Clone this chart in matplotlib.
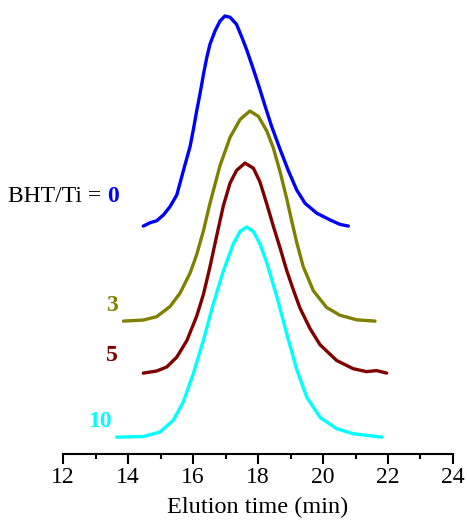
import numpy as np
import matplotlib.pyplot as plt

# elution time (min) and normalised RI signal
t_0 = [14.47, 14.68, 14.88, 15.09, 15.29, 15.50, 15.60, 15.75, 15.91, 16.01,
       16.11, 16.22, 16.32, 16.42, 16.52, 16.68, 16.83, 16.98, 17.14, 17.34,
       17.50, 17.65, 17.86, 18.06, 18.22, 18.42, 18.68, 18.93, 19.19, 19.45,
       19.81, 20.22, 20.52, 20.78]
s_0 = [0.0, 0.016, 0.025, 0.053, 0.092, 0.148, 0.205, 0.29, 0.379, 0.459,
       0.546, 0.634, 0.721, 0.80, 0.865, 0.93, 0.976, 1.0, 0.994, 0.96,
       0.90, 0.84, 0.745, 0.65, 0.57, 0.474, 0.365, 0.265, 0.172, 0.108,
       0.061, 0.029, 0.008, 0.0]

t_3 = [13.86, 14.47, 14.88, 15.29, 15.60, 15.91, 16.11, 16.32, 16.52, 16.83,
       17.14, 17.45, 17.75, 18.01, 18.27, 18.47, 18.68, 18.88, 19.04, 19.19,
       19.39, 19.70, 20.11, 20.52, 21.04, 21.60]
s_3 = [0.0, 0.005, 0.021, 0.069, 0.133, 0.229, 0.315, 0.43, 0.56, 0.74,
       0.875, 0.96, 1.0, 0.975, 0.905, 0.825, 0.71, 0.585, 0.475, 0.375,
       0.26, 0.145, 0.065, 0.028, 0.006, 0.0]

t_5 = [14.47, 14.88, 15.19, 15.50, 15.81, 16.11, 16.32, 16.52, 16.73, 16.93,
       17.14, 17.34, 17.60, 17.86, 18.06, 18.27, 18.47, 18.68, 18.88, 19.09,
       19.29, 19.60, 19.91, 20.42, 20.93, 21.34, 21.65, 21.96]
s_5 = [0.0, 0.01, 0.029, 0.076, 0.155, 0.27, 0.375, 0.505, 0.655, 0.795,
       0.905, 0.965, 1.0, 0.975, 0.91, 0.805, 0.70, 0.595, 0.49, 0.395,
       0.31, 0.212, 0.135, 0.06, 0.021, 0.007, 0.012, 0.0]

t_10 = [13.65, 14.47, 14.98, 15.39, 15.70, 16.01, 16.32, 16.62, 16.93, 17.24,
        17.45, 17.65, 17.86, 18.06, 18.27, 18.58, 18.88, 19.19, 19.50, 19.91,
        20.42, 20.93, 21.80]
s_10 = [0.0, 0.003, 0.024, 0.08, 0.167, 0.303, 0.462, 0.632, 0.79, 0.92,
        0.98, 1.0, 0.978, 0.92, 0.83, 0.668, 0.494, 0.322, 0.19, 0.094,
        0.04, 0.016, 0.0]

ratios = ['0', '3', '5', '10']
colors = ['#0000FF', '#808000', '#800000', '#00FFFF']
offsets = [228, 133, 81, 17]
scale = 210

plt.rcParams['font.family'] = 'Liberation Serif'

fig = plt.figure(figsize=(4.67, 5.22), dpi=100)
ax = fig.add_axes([0.135, 0.13, 0.835, 0.87])

for t, s, c, off in zip([t_0, t_3, t_5, t_10], [s_0, s_3, s_5, s_10], colors, offsets):
    ax.plot(t, np.array(s) * scale + off, color=c, lw=2.4,
            solid_joinstyle='round', solid_capstyle='round')

# labels next to the curves
ax.text(13.35, 258, 'BHT/Ti = ', ha='right', va='center', fontsize=17)
ax.text(13.72, 258, ratios[0], ha='right', va='center', fontsize=17,
        fontweight='bold', color=colors[0])
ax.text(13.51, 149, ratios[1], ha='center', va='center', fontsize=17,
        fontweight='bold', color=colors[1])
ax.text(13.51, 99, ratios[2], ha='center', va='center', fontsize=17,
        fontweight='bold', color=colors[2])
ax.text(13.14, 33, ratios[3], ha='center', va='center', fontsize=17,
        fontweight='bold', color=colors[3])

ax.set_xlim(12, 24)
ax.set_ylim(0, 454)
ax.set_xticks(np.arange(12, 25, 2))
ax.set_xticks(np.arange(13, 24, 2), minor=True)
ax.set_yticks([])
for side in ['top', 'right', 'left']:
    ax.spines[side].set_visible(False)
ax.spines['bottom'].set_linewidth(1.5)
ax.tick_params(axis='x', which='major', length=7, width=1.5, labelsize=17, pad=2)
ax.tick_params(axis='x', which='minor', length=3.5, width=1.5)
ax.set_xlabel('Elution time (min)', fontsize=17.5, labelpad=7)

fig.savefig('out.png', dpi=100)
